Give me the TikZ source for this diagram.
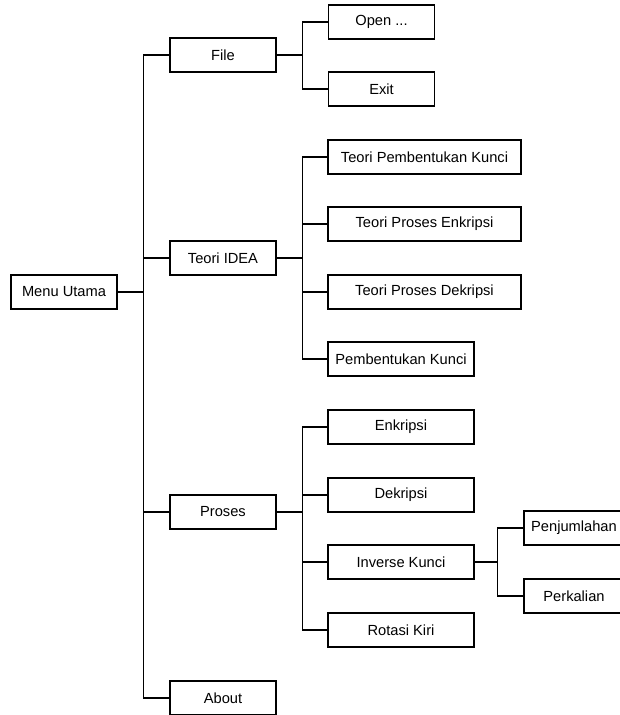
\documentclass[tikz,border=0pt]{standalone}
\usepackage{fontspec}
\setmainfont{Liberation Sans}
\usepackage{tikz}

\begin{document}
\begin{tikzpicture}[x=0.75pt,y=-0.75pt,line width=0.8pt,
  box/.style={draw,minimum height=25.5pt,inner sep=0pt,font=\fontsize{11}{13}\selectfont},
  wa/.style={box,minimum width=79.5pt},
  wb/.style={box,minimum width=144.75pt},
  wc/.style={box,minimum width=109.5pt},
  wd/.style={box,minimum width=75pt}]

\clip (0,0) rectangle (620,715);

\node[wa] (menu) at (64,292) {Menu Utama};
\node[wa] (file) at (223,55) {File};
\node[wa] (idea) at (223,258) {Teori IDEA};
\node[wa] (proses) at (223,512) {Proses};
\node[wa] (about) at (223,698) {About};

\node[wa] (open) at (381.5,22) {Open ...};
\node[wa] (exit) at (381.5,89) {Exit};

\node[wb] (tpk) at (424.5,157) {Teori Pembentukan Kunci};
\node[wb] (tpe) at (424.5,224) {Teori Proses Enkripsi};
\node[wb] (tpd) at (424.5,292) {Teori Proses Dekripsi};
\node[wc] (pk) at (401,359) {Pembentukan Kunci};

\node[wc] (enk) at (401,427) {Enkripsi};
\node[wc] (dek) at (401,495) {Dekripsi};
\node[wc] (inv) at (401,562) {Inverse Kunci};
\node[wc] (rot) at (401,630) {Rotasi Kiri};

\node[wd] (jum) at (574,528) {Penjumlahan};
\node[wd] (kali) at (574,596) {Perkalian};

\draw (menu.east) -- ++(26,0) |- (file.west);
\draw (menu.east) -- ++(26,0) |- (idea.west);
\draw (menu.east) -- ++(26,0) |- (proses.west);
\draw (menu.east) -- ++(26,0) |- (about.west);

\draw (file.east) -- ++(26,0) |- (open.west);
\draw (file.east) -- ++(26,0) |- (exit.west);

\draw (idea.east) -- ++(26,0) |- (tpk.west);
\draw (idea.east) -- ++(26,0) |- (tpe.west);
\draw (idea.east) -- ++(26,0) |- (tpd.west);
\draw (idea.east) -- ++(26,0) |- (pk.west);

\draw (proses.east) -- ++(26,0) |- (enk.west);
\draw (proses.east) -- ++(26,0) |- (dek.west);
\draw (proses.east) -- ++(26,0) |- (inv.west);
\draw (proses.east) -- ++(26,0) |- (rot.west);

\draw (inv.east) -- ++(23,0) |- (jum.west);
\draw (inv.east) -- ++(23,0) |- (kali.west);
\end{tikzpicture}
\end{document}
